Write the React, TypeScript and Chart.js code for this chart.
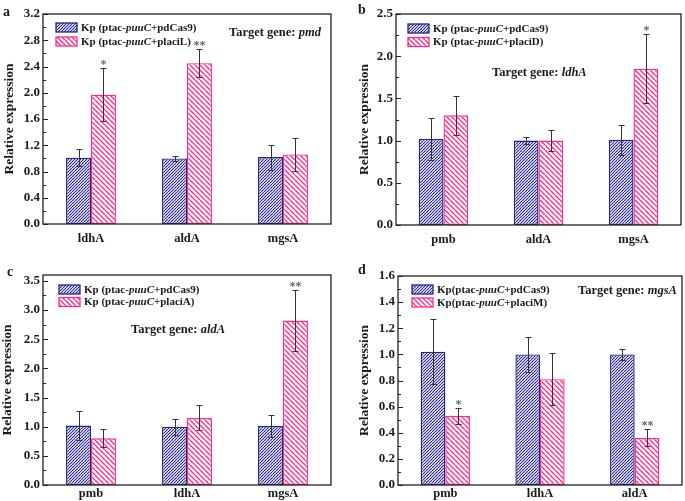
import React, { useEffect, useRef } from 'react';
import { Chart, registerables } from 'chart.js';
Chart.register(...registerables);

const FONT = '"Liberation Serif", "Times New Roman", serif';
const BLUE = '#23238c';
const PINK = '#ff2a88';
const TEXT = '#1a1a1a';

// ---- Panel a ----
const catsA = ['ldhA', 'aldA', 'mgsA'];
const ctrlA = [1.01, 1.0, 1.02];
const ctrlErrA = [0.13, 0.04, 0.19];
const trtA = [1.97, 2.45, 1.06];
const trtErrA = [0.4, 0.21, 0.25];
const sigA = ['*', '**', ''];
const yTicksA = [0, 0.4, 0.8, 1.2, 1.6, 2.0, 2.4, 2.8, 3.2];
const legendA = ['Kp (ptac-_puuC_+pdCas9)', 'Kp (ptac-_puuC_+placiL)'];

// ---- Panel b ----
const catsB = ['pmb', 'aldA', 'mgsA'];
const ctrlB = [1.02, 1.0, 1.01];
const ctrlErrB = [0.25, 0.04, 0.18];
const trtB = [1.3, 1.0, 1.85];
const trtErrB = [0.23, 0.12, 0.41];
const sigB = ['', '', '*'];
const yTicksB = [0, 0.5, 1.0, 1.5, 2.0, 2.5];
const legendB = ['Kp (ptac-_puuC_+pdCas9)', 'Kp (ptac-_puuC_+placiD)'];

// ---- Panel c ----
const catsC = ['pmb', 'ldhA', 'mgsA'];
const ctrlC = [1.02, 1.0, 1.01];
const ctrlErrC = [0.25, 0.14, 0.185];
const trtC = [0.8, 1.15, 2.82];
const trtErrC = [0.155, 0.215, 0.53];
const sigC = ['', '', '**'];
const yTicksC = [0, 0.5, 1.0, 1.5, 2.0, 2.5, 3.0, 3.5];
const legendC = ['Kp (ptac-_puuC_+pdCas9)', 'Kp (ptac-_puuC_+placiA)'];

// ---- Panel d ----
const catsD = ['pmb', 'ldhA', 'aldA'];
const ctrlD = [1.02, 1.0, 1.0];
const ctrlErrD = [0.25, 0.135, 0.04];
const trtD = [0.53, 0.81, 0.36];
const trtErrD = [0.06, 0.2, 0.065];
const sigD = ['*', '', '**'];
const yTicksD = [0, 0.2, 0.4, 0.6, 0.8, 1.0, 1.2, 1.4, 1.6];
const legendD = ['Kp(ptac-_puuC_+pdCas9)', 'Kp(ptac-_puuC_+placiM)'];

const panels = [
  {
    letter: 'a', cats: catsA, ctrl: ctrlA, ctrlErr: ctrlErrA, trt: trtA, trtErr: trtErrA, sig: sigA,
    yTicks: yTicksA, yMax: 3.2, legend: legendA, target: 'Target gene: _pmd_', xPad: 7, xH: 30,
    plot: [43, 14, 331, 224], sw: [56, 23, 14], targetPos: [229, 33], letterPos: [3, 12], titleX: 10,
  },
  {
    letter: 'b', cats: catsB, ctrl: ctrlB, ctrlErr: ctrlErrB, trt: trtB, trtErr: trtErrB, sig: sigB,
    yTicks: yTicksB, yMax: 2.5, legend: legendB, target: 'Target gene: _ldhA_', xPad: 7, xH: 30,
    plot: [396, 14, 681, 225], sw: [408, 24, 13.5], targetPos: [492, 73], letterPos: [358, 10], titleX: 365,
  },
  {
    letter: 'c', cats: catsC, ctrl: ctrlC, ctrlErr: ctrlErrC, trt: trtC, trtErr: trtErrC, sig: sigC,
    yTicks: yTicksC, yMax: 3.6, legend: legendC, target: 'Target gene: _aldA_', xPad: 1, xH: 16,
    plot: [43, 275, 331, 485], sw: [59, 285, 12.5], targetPos: [131, 330], letterPos: [7, 272], titleX: 8,
  },
  {
    letter: 'd', cats: catsD, ctrl: ctrlD, ctrlErr: ctrlErrD, trt: trtD, trtErr: trtErrD, sig: sigD,
    yTicks: yTicksD, yMax: 1.6, legend: legendD, target: 'Target gene: _mgsA_', xPad: 1, xH: 16,
    plot: [398, 276, 682, 485], sw: [412, 285, 13], targetPos: [578, 291], letterPos: [358, 270], titleX: 365,
  },
];

function makeHatch(ctx: CanvasRenderingContext2D, color: string, size: number, dir: string, lw: number) {
  const c = document.createElement('canvas');
  c.width = size;
  c.height = size;
  const x = c.getContext('2d') as CanvasRenderingContext2D;
  x.fillStyle = '#ffffff';
  x.fillRect(0, 0, size, size);
  x.strokeStyle = color;
  x.lineWidth = lw;
  x.beginPath();
  for (const o of [-size, 0, size]) {
    if (dir === '/') {
      x.moveTo(o, size);
      x.lineTo(o + size, 0);
    } else {
      x.moveTo(o, 0);
      x.lineTo(o + size, size);
    }
  }
  x.stroke();
  return ctx.createPattern(c, 'repeat') as CanvasPattern;
}

function drawSegs(ctx: CanvasRenderingContext2D, text: string, x: number, y: number, size: number) {
  const parts = text.split('_');
  let cx = x;
  parts.forEach((t, i) => {
    ctx.font = `${i % 2 === 1 ? 'italic ' : ''}bold ${size}px ${FONT}`;
    ctx.fillText(t, cx, y);
    cx += ctx.measureText(t).width;
  });
}

function makePlugin(p: any, fills: CanvasPattern[]) {
  return {
    id: 'panelDeco',
    afterDatasetsDraw(chart: any) {
      const ctx: CanvasRenderingContext2D = chart.ctx;
      const { left, right, top, bottom } = chart.chartArea;
      const ys = chart.scales.y;
      ctx.save();
      // error bars + significance
      [p.ctrlErr, p.trtErr].forEach((errs: number[], di: number) => {
        const meta = chart.getDatasetMeta(di);
        const vals = di === 0 ? p.ctrl : p.trt;
        meta.data.forEach((el: any, i: number) => {
          const v = vals[i];
          const yt = Math.round(ys.getPixelForValue(v + errs[i])) + 0.5;
          const yb = Math.round(ys.getPixelForValue(v - errs[i])) + 0.5;
          const x = Math.round(el.x) + 0.5;
          ctx.strokeStyle = '#333';
          ctx.lineWidth = 1;
          ctx.beginPath();
          ctx.moveTo(x, yt); ctx.lineTo(x, yb);
          ctx.moveTo(x - 3, yt); ctx.lineTo(x + 3, yt);
          ctx.moveTo(x - 3, yb); ctx.lineTo(x + 3, yb);
          ctx.stroke();
          if (di === 1 && p.sig[i]) {
            ctx.fillStyle = '#666';
            ctx.font = `bold 12px ${FONT}`;
            ctx.textAlign = 'center';
            ctx.textBaseline = 'alphabetic';
            ctx.fillText(p.sig[i], x, yt - 1);
          }
        });
      });
      // frame
      ctx.strokeStyle = '#222';
      ctx.lineWidth = 1.3;
      ctx.strokeRect(left, top, right - left, bottom - top);
      // inward ticks
      ctx.lineWidth = 1;
      ctx.beginPath();
      p.yTicks.forEach((v: number, i: number) => {
        const yy = Math.round(ys.getPixelForValue(v)) + 0.5;
        ctx.moveTo(left, yy); ctx.lineTo(left + 5, yy);
        if (i < p.yTicks.length - 1) {
          const m = (v + p.yTicks[i + 1]) / 2;
          const ym = Math.round(ys.getPixelForValue(m)) + 0.5;
          ctx.moveTo(left, ym); ctx.lineTo(left + 3, ym);
        }
      });
      ctx.stroke();
      // legend
      const [sx, sy, gap] = p.sw;
      p.legend.forEach((t: string, i: number) => {
        const yy = sy + i * gap;
        ctx.fillStyle = fills[i];
        ctx.fillRect(sx, yy, 21, 9);
        ctx.strokeStyle = i === 0 ? BLUE : PINK;
        ctx.lineWidth = 1.3;
        ctx.strokeRect(sx, yy, 21, 9);
        ctx.fillStyle = TEXT;
        ctx.textAlign = 'left';
        ctx.textBaseline = 'middle';
        drawSegs(ctx, t, sx + 25, yy + 5, 11);
      });
      // target gene
      ctx.fillStyle = TEXT;
      ctx.textAlign = 'left';
      ctx.textBaseline = 'middle';
      drawSegs(ctx, p.target, p.targetPos[0], p.targetPos[1], 12.5);
      // panel letter
      ctx.font = `bold 14px ${FONT}`;
      ctx.fillText(p.letter, p.letterPos[0], p.letterPos[1]);
      // y title
      ctx.save();
      ctx.translate(p.titleX, (top + bottom) / 2);
      ctx.rotate(-Math.PI / 2);
      ctx.textAlign = 'center';
      ctx.textBaseline = 'middle';
      ctx.font = `bold 13.5px ${FONT}`;
      ctx.fillText('Relative expression', 0, 0);
      ctx.restore();
      ctx.restore();
    },
  };
}

export default function App() {
  const refs = useRef<(HTMLCanvasElement | null)[]>([]);
  useEffect(() => {
    const charts = panels.map((p, k) => {
      const canvas = refs.current[k] as HTMLCanvasElement;
      const ctx = canvas.getContext('2d') as CanvasRenderingContext2D;
      const blue = makeHatch(ctx, BLUE, 3, '/', 1.1);
      const pink = makeHatch(ctx, PINK, 5, '\\', 1.4);
      const [pl, pt, pr, pb] = p.plot;
      return new Chart(canvas, {
        type: 'bar',
        data: {
          labels: p.cats,
          datasets: [
            { data: p.ctrl, backgroundColor: blue, borderColor: BLUE, borderWidth: 1.4, borderSkipped: false },
            { data: p.trt, backgroundColor: pink, borderColor: PINK, borderWidth: 1.4, borderSkipped: false },
          ],
        },
        options: {
          responsive: false,
          animation: false,
          devicePixelRatio: 1,
          layout: { padding: { left: pl - 40, top: pt, right: 685 - pr, bottom: 501 - pb - p.xH } },
          plugins: { legend: { display: false }, tooltip: { enabled: false }, title: { display: false } },
          datasets: { bar: { barPercentage: 1, categoryPercentage: 0.52 } },
          scales: {
            x: {
              type: 'category',
              offset: true,
              grid: { display: false, drawTicks: false },
              border: { display: false },
              ticks: { color: TEXT, font: { family: FONT, size: 12.5, weight: 'bold' }, padding: p.xPad, maxRotation: 0 },
              afterFit: (s: any) => { s.height = p.xH; },
            },
            y: {
              min: 0,
              max: p.yMax,
              grid: { display: false, drawTicks: false },
              border: { display: false },
              ticks: {
                color: TEXT,
                font: { family: FONT, size: 13, weight: 'bold' },
                padding: 3,
                callback: (v: any) => Number(v).toFixed(1),
              },
              afterBuildTicks: (s: any) => { s.ticks = p.yTicks.map((v: number) => ({ value: v })); },
              afterFit: (s: any) => { s.width = 40; },
            },
          },
        } as any,
        plugins: [makePlugin(p, [blue, pink])],
      });
    });
    return () => charts.forEach((c) => c.destroy());
  }, []);
  return (
    <div style={{ position: 'fixed', left: 0, top: 0, width: 685, height: 501, background: '#fff' }}>
      {panels.map((p, k) => (
        <canvas
          key={p.letter}
          ref={(el) => { refs.current[k] = el; }}
          width={685}
          height={501}
          style={{ position: 'absolute', left: 0, top: 0, width: 685, height: 501 }}
        />
      ))}
    </div>
  );
}
